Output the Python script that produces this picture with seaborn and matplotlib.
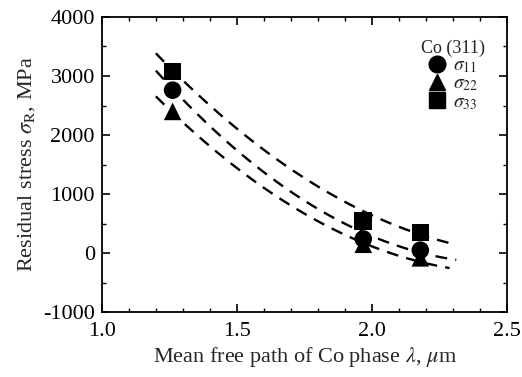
import numpy as np
import pandas as pd
import matplotlib
matplotlib.use("Agg")
import matplotlib.pyplot as plt
import seaborn as sns
from matplotlib.lines import Line2D

# ---- data ----
mfp = [1.262, 1.967, 2.178]                 # mean free path, um
sigma11 = [2760, 240, 50]                   # circles
sigma22 = [2400, 150, -80]                  # triangles
sigma33 = [3075, 545, 350]                  # squares

# dashed fitted curves: points
curve_top_x = [1.20, 1.587, 1.80, 2.311]
curve_top_y = [3395, 1746, 1169, 136]
curve_mid_x = [1.20, 1.587, 1.80, 2.311]
curve_mid_y = [3100, 1378, 780, -119]
curve_bot_x = [1.20, 1.587, 1.80, 2.286]
curve_bot_y = [2666, 1100, 581, -260]

x_ticks = [1.0, 1.5, 2.0, 2.5]
y_ticks = [-1000, 0, 1000, 2000, 3000, 4000]

sns.set_theme(style="ticks")
plt.rcParams["font.family"] = ["Liberation Serif", "DejaVu Serif"]
plt.rcParams["mathtext.fontset"] = "stix"

fig = plt.figure(figsize=(5.22, 3.77), dpi=100)
ax = fig.add_axes([0.195, 0.172, 0.777, 0.783])

# smooth curves (quadratic through read points)
rows = []
for name, cx, cy in [("top", curve_top_x, curve_top_y),
                     ("mid", curve_mid_x, curve_mid_y),
                     ("bot", curve_bot_x, curve_bot_y)]:
    c = np.polyfit(cx, cy, 2)
    xs = np.linspace(cx[0], cx[-1], 60)
    for xv in xs:
        rows.append({"curve": name, "x": xv, "y": np.polyval(c, xv)})
curves = pd.DataFrame(rows)
for name, g in curves.groupby("curve"):
    sns.lineplot(data=g, x="x", y="y", ax=ax, color="black", lw=1.7,
                 linestyle=(0, (5, 3.5)), legend=False)

pts = pd.DataFrame({
    "x": mfp * 3,
    "y": sigma11 + sigma22 + sigma33,
    "s": ["s11"] * 3 + ["s22"] * 3 + ["s33"] * 3,
})
markers = {"s11": "o", "s22": "^", "s33": "s"}
sns.scatterplot(data=pts, x="x", y="y", style="s", markers=markers,
                color="black", s=160, edgecolor="black", linewidth=0,
                ax=ax, legend=False)

ax.set_xlim(1.0, 2.5)
ax.set_ylim(-1000, 4000)
ax.set_xticks(x_ticks)
ax.set_xticklabels([f"{v:.1f}" for v in x_ticks])
ax.set_yticks(y_ticks)
ax.set_yticklabels([str(v) for v in y_ticks])
ax.set_xticks(np.arange(1.0, 2.51, 0.1), minor=True)
ax.set_yticks(np.arange(-1000, 4001, 500), minor=True)
ax.tick_params(which="both", direction="in", top=True, right=True,
               labelsize=16, colors="black")
ax.tick_params(which="major", length=6, width=1.2)
ax.tick_params(which="minor", length=3, width=1.0)
ax.tick_params(axis="x", pad=7)
ax.tick_params(axis="y", pad=5)
for sp in ax.spines.values():
    sp.set_linewidth(1.3)
    sp.set_color("black")

ax.set_xlabel(r"Mean free path of Co phase $\lambda$, $\mu$m", fontsize=16, labelpad=3)
ax.set_ylabel(r"Residual stress $\sigma_{\mathrm{R}}$, MPa", fontsize=16, labelpad=4)

handles = [Line2D([], [], marker=markers[k], color="black", ls="none", markersize=12)
           for k in ["s11", "s22", "s33"]]
labels = [r"$\sigma_{11}$", r"$\sigma_{22}$", r"$\sigma_{33}$"]
leg = ax.legend(handles, labels, title="Co (311)", loc="upper right",
                bbox_to_anchor=(0.978, 0.97), frameon=False, fontsize=14,
                title_fontsize=13, handletextpad=0.3, labelspacing=0.0,
                borderpad=0.2, handlelength=1.0)

fig.savefig("out.png", dpi=100)
